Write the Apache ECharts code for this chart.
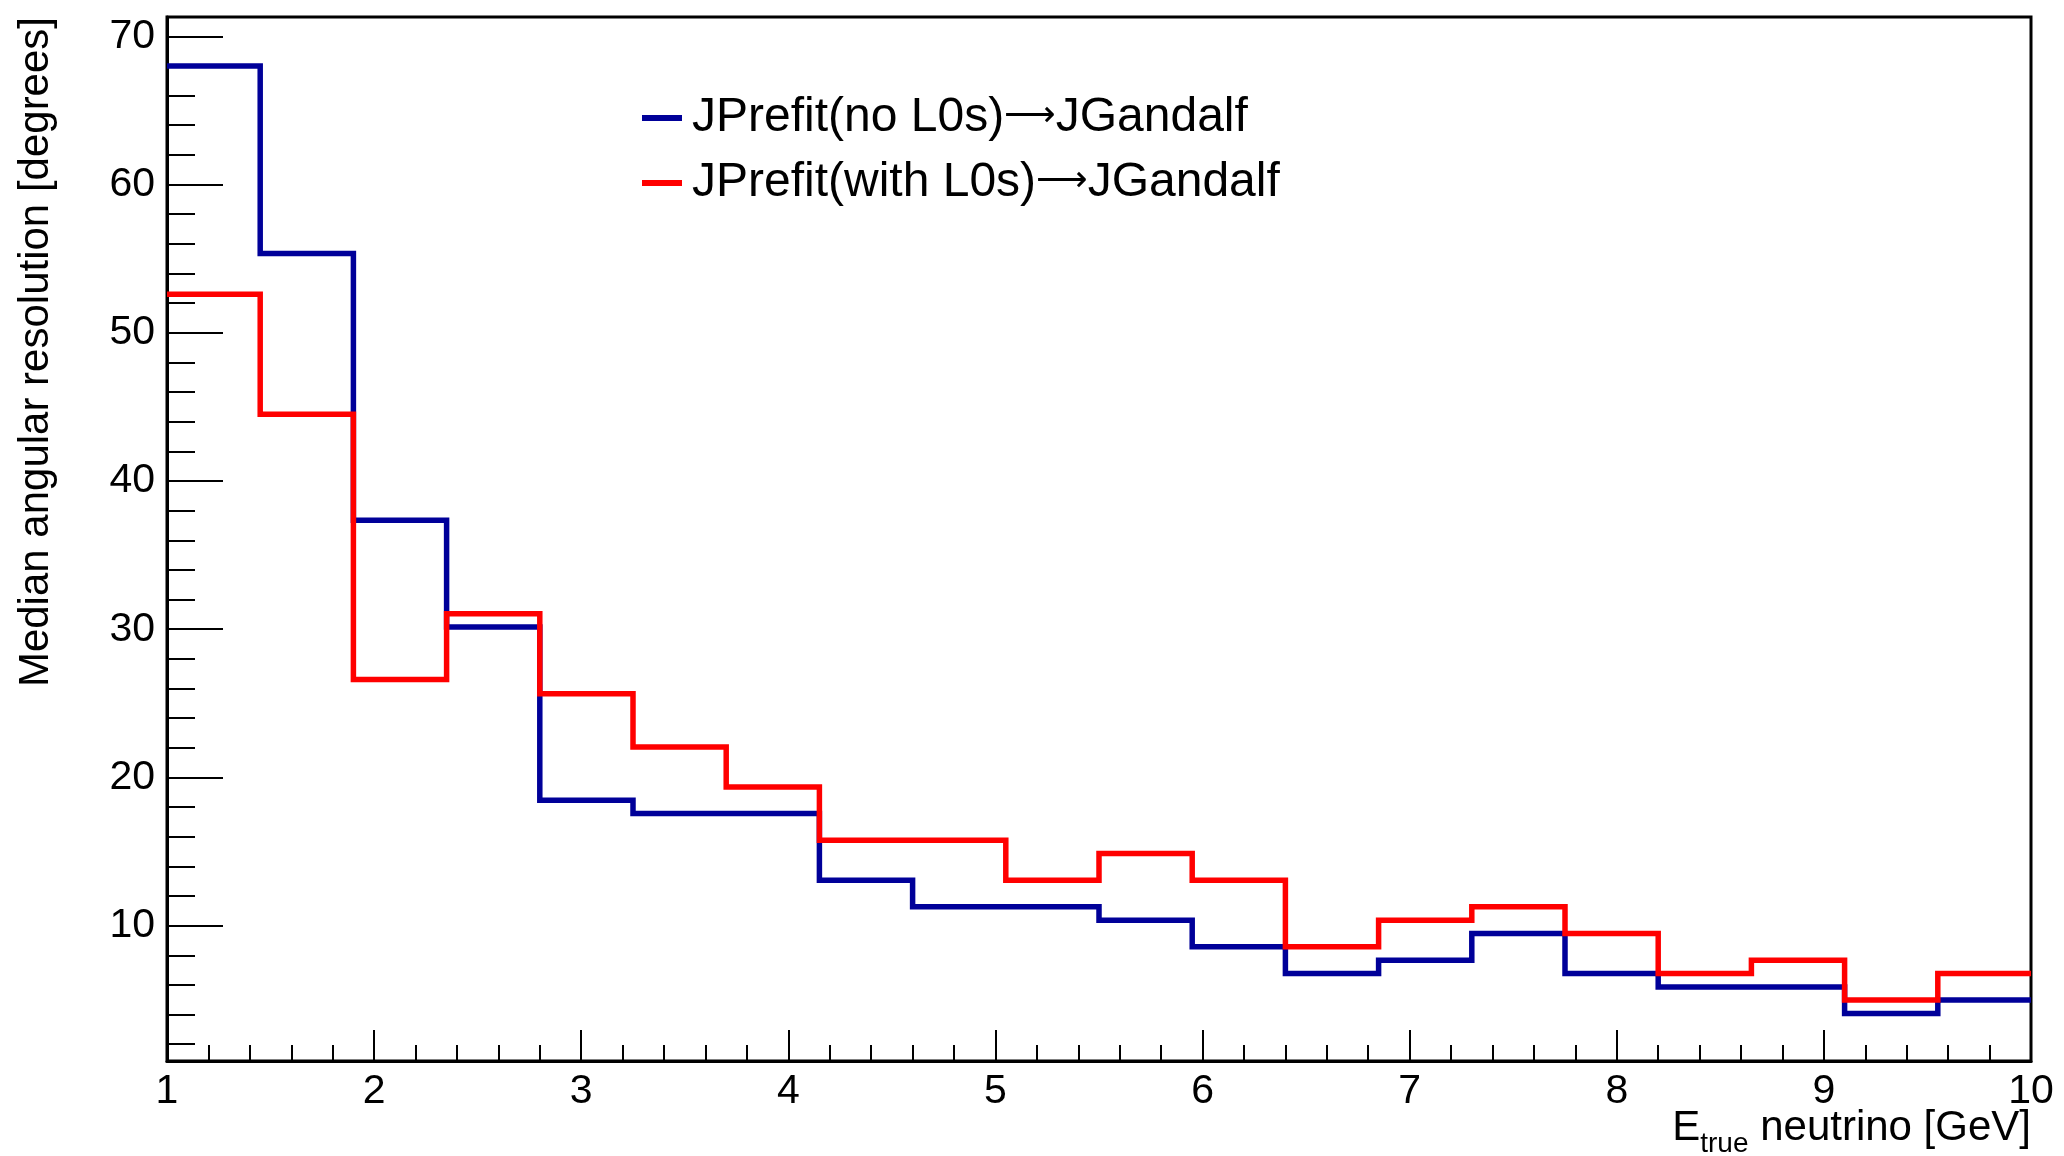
<!DOCTYPE html>
<html>
<head>
<meta charset="utf-8">
<script src="https://cdn.jsdelivr.net/npm/echarts@6/dist/echarts.min.js"></script>
<style>
  html, body { margin: 0; padding: 0; background: #ffffff; }
  #chart { width: 2064px; height: 1156px; }
</style>
</head>
<body>
<div id="chart"></div>
<script>
// Histogram bin edges of the true neutrino energy [GeV]
const binEdges = [1, 1.45, 1.9, 2.35, 2.8, 3.25, 3.7, 4.15, 4.6, 5.05, 5.5,
                  5.95, 6.4, 6.85, 7.3, 7.75, 8.2, 8.65, 9.1, 9.55, 10];

// Median angular resolution per bin [degrees]
const resNoL0s = [68.0, 55.35, 37.35, 30.15, 18.46, 17.56, 17.56, 13.07, 11.27, 11.27,
                  10.37, 8.57, 6.77, 7.67, 9.47, 6.77, 5.87, 5.87, 4.07, 4.98];
const resWithL0s = [52.6, 44.5, 26.6, 31.05, 25.65, 22.06, 19.36, 15.77, 15.77, 13.07,
                    14.86, 13.07, 8.57, 10.37, 11.27, 9.47, 6.77, 7.67, 4.98, 6.77];

const seriesNames = ['JPrefit(no L0s)→JGandalf', 'JPrefit(with L0s)→JGandalf'];
const seriesColors = ['#000099', '#ff0000'];

// Axis ticks
const xMajorTicks = [1, 2, 3, 4, 5, 6, 7, 8, 9, 10];
const yMajorTicks = [10, 20, 30, 40, 50, 60, 70];
const xRange = [1, 10];
const yRange = [0.87, 71.3];

const xMinorTicks = [];
for (let i = 0; i <= 45; i++) {
  const v = Math.round((1 + i * 0.2) * 10) / 10;
  if (Math.abs(v - Math.round(v)) > 1e-6) xMinorTicks.push(v);
}
const yMinorTicks = [];
for (let v = 2; v < yRange[1]; v += 2) {
  if (v % 10 !== 0) yMinorTicks.push(v);
}

const FONT = '"Liberation Sans", Arial, Helvetica, sans-serif';
const LABEL_SIZE = 41;
const TITLE_SIZE = 42;
const LEGEND_SIZE = 48;

// step outline: each bin edge carries the value of the bin it opens; the last edge closes the final bin
function histPoints(values) {
  return binEdges.map((e, i) => [e, values[Math.min(i, values.length - 1)]]);
}

const chart = echarts.init(document.getElementById('chart'), null, { renderer: 'canvas' });

// text measuring for the x-axis title pieces
const mctx = document.createElement('canvas').getContext('2d');
function textWidth(str, size) {
  mctx.font = size + 'px ' + FONT;
  return mctx.measureText(str).width;
}

const gridLeft = 167, gridRight = 33, gridTop = 17, gridBottom = 95;
const plotRight = 2064 - gridRight;

const titleMain = ' neutrino [GeV]';
const titleSub = 'true';
const titleE = 'E';
const subSize = 28;
const wMain = textWidth(titleMain, TITLE_SIZE);
const wSub = textWidth(titleSub, subSize);
const titleMid = 1128;

const option = {
  animation: false,
  backgroundColor: '#ffffff',
  grid: {
    left: gridLeft, right: gridRight, top: gridTop, bottom: gridBottom,
    show: true, borderColor: '#000', borderWidth: 3, backgroundColor: 'transparent',
    outerBoundsMode: 'none'
  },
  legend: {
    orient: 'vertical',
    left: 637, top: 89,
    itemWidth: 40, itemHeight: 6, itemGap: 17,
    icon: 'rect',
    selectedMode: false,
    data: seriesNames,
    formatter: function (name) {
      const parts = name.split('→');
      return '{t|' + parts[0] + '}{arr|⟶}{t|' + parts[1] + '}';
    },
    textStyle: {
      fontSize: LEGEND_SIZE, lineHeight: 46, color: '#000', fontFamily: FONT,
      padding: [0, 0, 0, 5],
      rich: {
        t: { fontSize: LEGEND_SIZE, fontFamily: FONT, color: '#000', lineHeight: 46 },
        arr: { fontSize: 36, fontFamily: '"DejaVu Sans", sans-serif', color: '#000',
               lineHeight: 46, padding: [0, 0, 3, 0] }
      }
    }
  },
  xAxis: [
    {
      type: 'value', min: xRange[0], max: xRange[1], position: 'bottom',
      axisLine: { show: true, lineStyle: { color: '#000', width: 3 } },
      axisTick: { show: true, inside: true, length: 31, customValues: xMajorTicks,
                  lineStyle: { color: '#000', width: 2 } },
      axisLabel: { show: true, customValues: xMajorTicks, margin: 10,
                   fontSize: LABEL_SIZE, color: '#000', fontFamily: FONT },
      splitLine: { show: false }
    },
    {
      type: 'value', min: xRange[0], max: xRange[1], position: 'bottom',
      axisLine: { show: false },
      axisTick: { show: true, inside: true, length: 16, customValues: xMinorTicks,
                  lineStyle: { color: '#000', width: 2 } },
      axisLabel: { show: false },
      splitLine: { show: false }
    }
  ],
  yAxis: [
    {
      type: 'value', min: yRange[0], max: yRange[1], position: 'left',
      axisLine: { show: true, lineStyle: { color: '#000', width: 3 } },
      axisTick: { show: true, inside: true, length: 56, customValues: yMajorTicks,
                  lineStyle: { color: '#000', width: 2 } },
      axisLabel: { show: true, customValues: yMajorTicks, margin: 12,
                   fontSize: LABEL_SIZE, color: '#000', fontFamily: FONT },
      splitLine: { show: false }
    },
    {
      type: 'value', min: yRange[0], max: yRange[1], position: 'left',
      axisLine: { show: false },
      axisTick: { show: true, inside: true, length: 28, customValues: yMinorTicks,
                  lineStyle: { color: '#000', width: 2 } },
      axisLabel: { show: false },
      splitLine: { show: false }
    }
  ],
  series: [
    {
      name: seriesNames[0], type: 'line', step: 'end',
      xAxisIndex: 0, yAxisIndex: 0,
      data: histPoints(resNoL0s),
      symbol: 'none', clip: true,
      color: seriesColors[0],
      lineStyle: { color: seriesColors[0], width: 5.5, join: 'miter', cap: 'butt' }
    },
    {
      name: seriesNames[1], type: 'line', step: 'end',
      xAxisIndex: 0, yAxisIndex: 0,
      data: histPoints(resWithL0s),
      symbol: 'none', clip: true,
      color: seriesColors[1],
      lineStyle: { color: seriesColors[1], width: 5.5, join: 'miter', cap: 'butt' }
    }
  ],
  graphic: [
    {
      type: 'text', x: 36, y: gridTop, rotation: Math.PI / 2,
      style: {
        text: 'Median angular resolution [degrees]',
        fontSize: 42, fontFamily: FONT, fill: '#000',
        align: 'right', verticalAlign: 'middle'
      }
    },
    {
      type: 'text', x: plotRight, y: titleMid,
      style: { text: titleMain, fontSize: TITLE_SIZE, fontFamily: FONT, fill: '#000',
               align: 'right', verticalAlign: 'middle' }
    },
    {
      type: 'text', x: plotRight - wMain, y: titleMid + 16,
      style: { text: titleSub, fontSize: subSize, fontFamily: FONT, fill: '#000',
               align: 'right', verticalAlign: 'middle' }
    },
    {
      type: 'text', x: plotRight - wMain - wSub, y: titleMid,
      style: { text: titleE, fontSize: TITLE_SIZE, fontFamily: FONT, fill: '#000',
               align: 'right', verticalAlign: 'middle' }
    }
  ]
};

chart.setOption(option);
</script>
</body>
</html>
